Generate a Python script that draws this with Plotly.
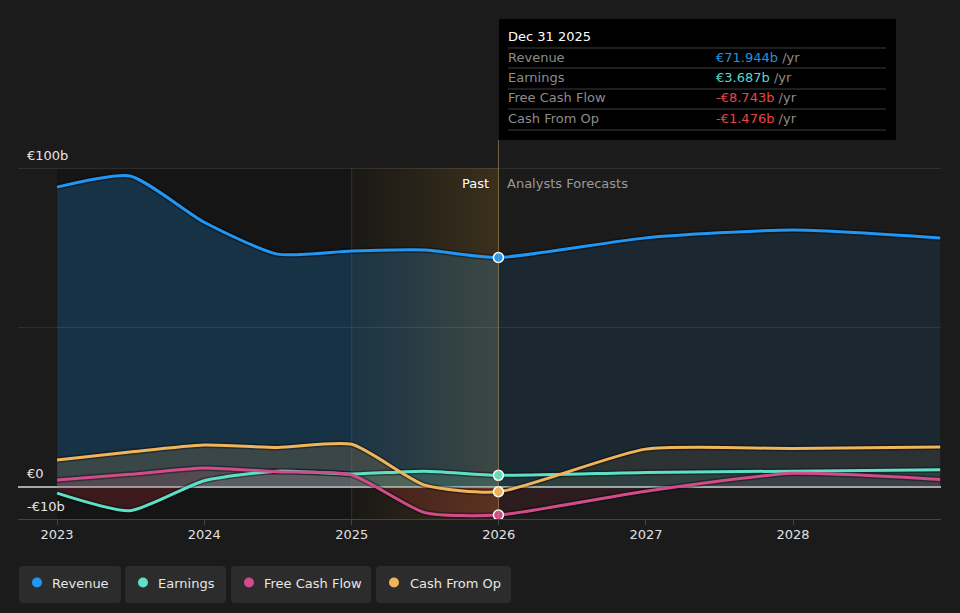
import plotly.graph_objects as go

# ---------------- data (billions EUR) ----------------
dates = ['2023-01-01', '2023-07-01', '2024-01-01', '2024-07-01', '2025-01-01',
         '2025-07-01', '2025-12-31', '2026-12-31', '2027-12-31', '2028-12-31']
revenue = [94.0, 97.5, 83.0, 73.0, 74.0, 74.3, 71.944, 78.1, 80.6, 78.1]
earnings = [-1.9, -7.4, 2.0, 5.0, 4.1, 5.0, 3.687, 4.6, 5.0, 5.4]
fcf = [2.2, 4.0, 6.0, 4.8, 3.8, -8.0, -8.743, -1.3, 4.3, 2.4]
cfo = [8.5, 11.0, 13.2, 12.4, 13.4, 0.6, -1.476, 11.9, 12.1, 12.6]
split = 6  # index of Dec 31 2025 (last reported point)

series_names = ['Revenue', 'Earnings', 'Free Cash Flow', 'Cash From Op']
series_vals = [revenue, earnings, fcf, cfo]
series_rgb = [(33, 150, 243), (92, 224, 200), (208, 76, 138), (240, 180, 90)]
tooltip_vals = ['€71.944b', '€3.687b', '-€8.743b', '-€1.476b']
tooltip_cols = ['#2394df', '#5ad8c6', '#e84545', '#e84545']
year_ticks = ['2023-01-01', '2024-01-01', '2025-01-01', '2026-01-01', '2027-01-01', '2028-01-01']
year_labels = ['2023', '2024', '2025', '2026', '2027', '2028']

BG = '#1b1b1b'
W, H = 960, 613
L, R, T, B = 18, 941, 168, 519


def X(px):
    return (px - L) / (R - L)


def Y(py):
    return (B - py) / (B - T)


def rgba(c, a):
    return f'rgba({c[0]},{c[1]},{c[2]},{a})'


fig = go.Figure()

YMIN, YMAX = -10, 100
zpos = (0 - YMIN) / (YMAX - YMIN)

# fills: past (stronger) and forecast (weaker)
for i, (name, vals, c) in enumerate(zip(series_names, series_vals, series_rgb)):
    for part, a, neg_a in (('past', 0.22 if i == 0 else 0.16, 0.22), ('future', 0.10 if i == 0 else 0.08, 0.10)):
        if part == 'past':
            xs, ys = dates[:split + 1], vals[:split + 1]
        else:
            xs, ys = dates[split:], vals[split:]
        kw = {}
        if min(ys) < 0:
            kw['fillgradient'] = dict(
                type='vertical', start=YMIN, stop=YMAX,
                colorscale=[[0, f'rgba(200,40,50,{neg_a})'], [zpos, f'rgba(200,40,50,{neg_a})'],
                            [zpos + 0.0005, rgba(c, a)], [1, rgba(c, a)]])
        fig.add_trace(go.Scatter(
            x=xs, y=ys, mode='lines', line=dict(width=0, shape='spline', smoothing=0.6),
            fill='tozeroy', fillcolor=rgba(c, a), hoverinfo='skip', showlegend=False, **kw))

# 2025 -> 2026 highlight band (gradient)
fig.add_trace(go.Scatter(
    x=['2025-01-01', '2025-12-31', '2025-12-31', '2025-01-01', '2025-01-01'],
    y=[YMIN, YMIN, YMAX, YMAX, YMIN], mode='lines', line=dict(width=0),
    fill='toself', fillcolor='rgba(240,180,60,0.08)',
    fillgradient=dict(type='horizontal',
                      colorscale=[[0, 'rgba(240,180,60,0.02)'], [1, 'rgba(240,180,60,0.17)']]),
    hoverinfo='skip', showlegend=False))

# soft dark shadow under lines
for name, vals, c in zip(series_names, series_vals, series_rgb):
    fig.add_trace(go.Scatter(
        x=dates, y=vals, mode='lines',
        line=dict(color='rgba(0,0,0,0.35)', width=6, shape='spline', smoothing=0.6),
        hoverinfo='skip', showlegend=False))

# lines
for name, vals, c in zip(series_names, series_vals, series_rgb):
    fig.add_trace(go.Scatter(
        x=dates, y=vals, mode='lines', name=name,
        line=dict(color=rgba(c, 1), width=3, shape='spline', smoothing=0.6),
        hoverinfo='skip', showlegend=False))

# markers at the last reported point
for name, vals, c in zip(series_names, series_vals, series_rgb):
    fig.add_trace(go.Scatter(
        x=[dates[split]], y=[vals[split]], mode='markers',
        marker=dict(size=10, color=rgba(c, 1), line=dict(color='white', width=1.5)),
        hoverinfo='skip', showlegend=False))

shapes = []
annotations = []

# past dark region
shapes.append(dict(type='rect', xref='x', yref='paper', x0='2023-01-01', x1=dates[split],
                   y0=0, y1=1, fillcolor='#151515', line=dict(width=0), layer='below'))
# 100b grid line
shapes.append(dict(type='line', xref='paper', yref='y', x0=0, x1=1, y0=100, y1=100,
                   line=dict(color='#444444', width=1), layer='below'))
# zero line
shapes.append(dict(type='line', xref='paper', yref='y', x0=0, x1=1, y0=0, y1=0,
                   line=dict(color='#d8d8d8', width=1.5), layer='between'))
# vertical at 2025
shapes.append(dict(type='line', xref='x', yref='paper', x0='2025-01-01', x1='2025-01-01',
                   y0=0, y1=1, line=dict(color='rgba(200,170,110,0.18)', width=1), layer='below'))
# vertical at Dec 31 2025 up to tooltip
shapes.append(dict(type='line', xref='x', yref='paper', x0=dates[split], x1=dates[split],
                   y0=0, y1=Y(140), line=dict(color='rgba(200,165,100,0.5)', width=1), layer='above'))

# tooltip box
shapes.append(dict(type='rect', xref='paper', yref='paper', x0=X(499), x1=X(896), y0=Y(140), y1=Y(19),
                   fillcolor='#000000', line=dict(width=0), layer='above'))
for py in (48, 68, 89, 109, 130):
    shapes.append(dict(type='line', xref='paper', yref='paper', x0=X(508), x1=X(886), y0=Y(py), y1=Y(py),
                       line=dict(color='#3c3c3c', width=1), layer='above'))
annotations.append(dict(xref='paper', yref='paper', x=X(506), y=Y(36), xanchor='left', yanchor='middle',
                        text='Dec 31 2025', showarrow=False, font=dict(size=13, color='#ffffff')))
for i, (name, v, col) in enumerate(zip(series_names, tooltip_vals, tooltip_cols)):
    py = 57 + i * 20.4
    annotations.append(dict(xref='paper', yref='paper', x=X(506), y=Y(py), xanchor='left', yanchor='middle',
                            text=name, showarrow=False, font=dict(size=13, color='#8c8c8c')))
    annotations.append(dict(xref='paper', yref='paper', x=X(714), y=Y(py), xanchor='left', yanchor='middle',
                            text=f"<span style='color:{col}'>{v}</span> /yr", showarrow=False,
                            font=dict(size=13, color='#8c8c8c')))

# Past / Analysts Forecasts
annotations.append(dict(xref='paper', yref='paper', x=X(491), y=Y(183), xanchor='right', yanchor='middle',
                        text='Past', showarrow=False, font=dict(size=13, color='#ffffff')))
annotations.append(dict(xref='paper', yref='paper', x=X(505), y=Y(183), xanchor='left', yanchor='middle',
                        text='Analysts Forecasts', showarrow=False, font=dict(size=13, color='#9a9a9a')))

# y labels
for txt, py in (('€100b', 155), ('€0', 473), ('-€10b', 506)):
    annotations.append(dict(xref='paper', yref='paper', x=X(25), y=Y(py), xanchor='left', yanchor='middle',
                            text=txt, showarrow=False, font=dict(size=13, color='#e6e6e6')))

# legend chips
chips = [(19, 121, 37, 50), (125, 226, 143, 156), (231, 371, 249, 262), (376, 511, 394, 408)]
for (x0, x1, dx, tx), name, c in zip(chips, series_names, series_rgb):
    r = 4
    y0p, y1p = 566, 603
    path = (f'M {X(x0 + r)},{Y(y0p)} L {X(x1 - r)},{Y(y0p)} Q {X(x1)},{Y(y0p)} {X(x1)},{Y(y0p + r)} '
            f'L {X(x1)},{Y(y1p - r)} Q {X(x1)},{Y(y1p)} {X(x1 - r)},{Y(y1p)} '
            f'L {X(x0 + r)},{Y(y1p)} Q {X(x0)},{Y(y1p)} {X(x0)},{Y(y1p - r)} '
            f'L {X(x0)},{Y(y0p + r)} Q {X(x0)},{Y(y0p)} {X(x0 + r)},{Y(y0p)} Z')
    shapes.append(dict(type='path', xref='paper', yref='paper', path=path,
                       fillcolor='#2c2c2c', line=dict(width=0), layer='above'))
    shapes.append(dict(type='circle', xref='paper', yref='paper', x0=X(dx - 5), x1=X(dx + 5),
                       y0=Y(582.5 + 5), y1=Y(582.5 - 5), fillcolor=rgba(c, 1), line=dict(width=0), layer='above'))
    annotations.append(dict(xref='paper', yref='paper', x=X(tx), y=Y(583), xanchor='left', yanchor='middle',
                            text=name, showarrow=False, font=dict(size=13, color='#e6e6e6')))

fig.update_layout(
    width=W, height=H,
    margin=dict(l=L, r=W - R, t=T, b=H - B),
    paper_bgcolor=BG, plot_bgcolor=BG,
    font=dict(family='DejaVu Sans', color='#e6e6e6', size=13),
    showlegend=False,
    shapes=shapes, annotations=annotations,
    xaxis=dict(type='date', range=['2022-09-26', '2029-01-02'], tickvals=year_ticks, ticktext=year_labels,
               showgrid=False, zeroline=False, showline=True, linecolor='#444444', linewidth=1,
               ticks='outside', ticklen=5, tickcolor='#444444', tickfont=dict(size=13, color='#e0e0e0'),
               ticklabelstandoff=-2, fixedrange=True),
    yaxis=dict(range=[YMIN, YMAX], tickvals=[50], showticklabels=False, showgrid=True,
               gridcolor='#2e2e2e', zeroline=False, fixedrange=True),
)

fig.write_html('out.html')
